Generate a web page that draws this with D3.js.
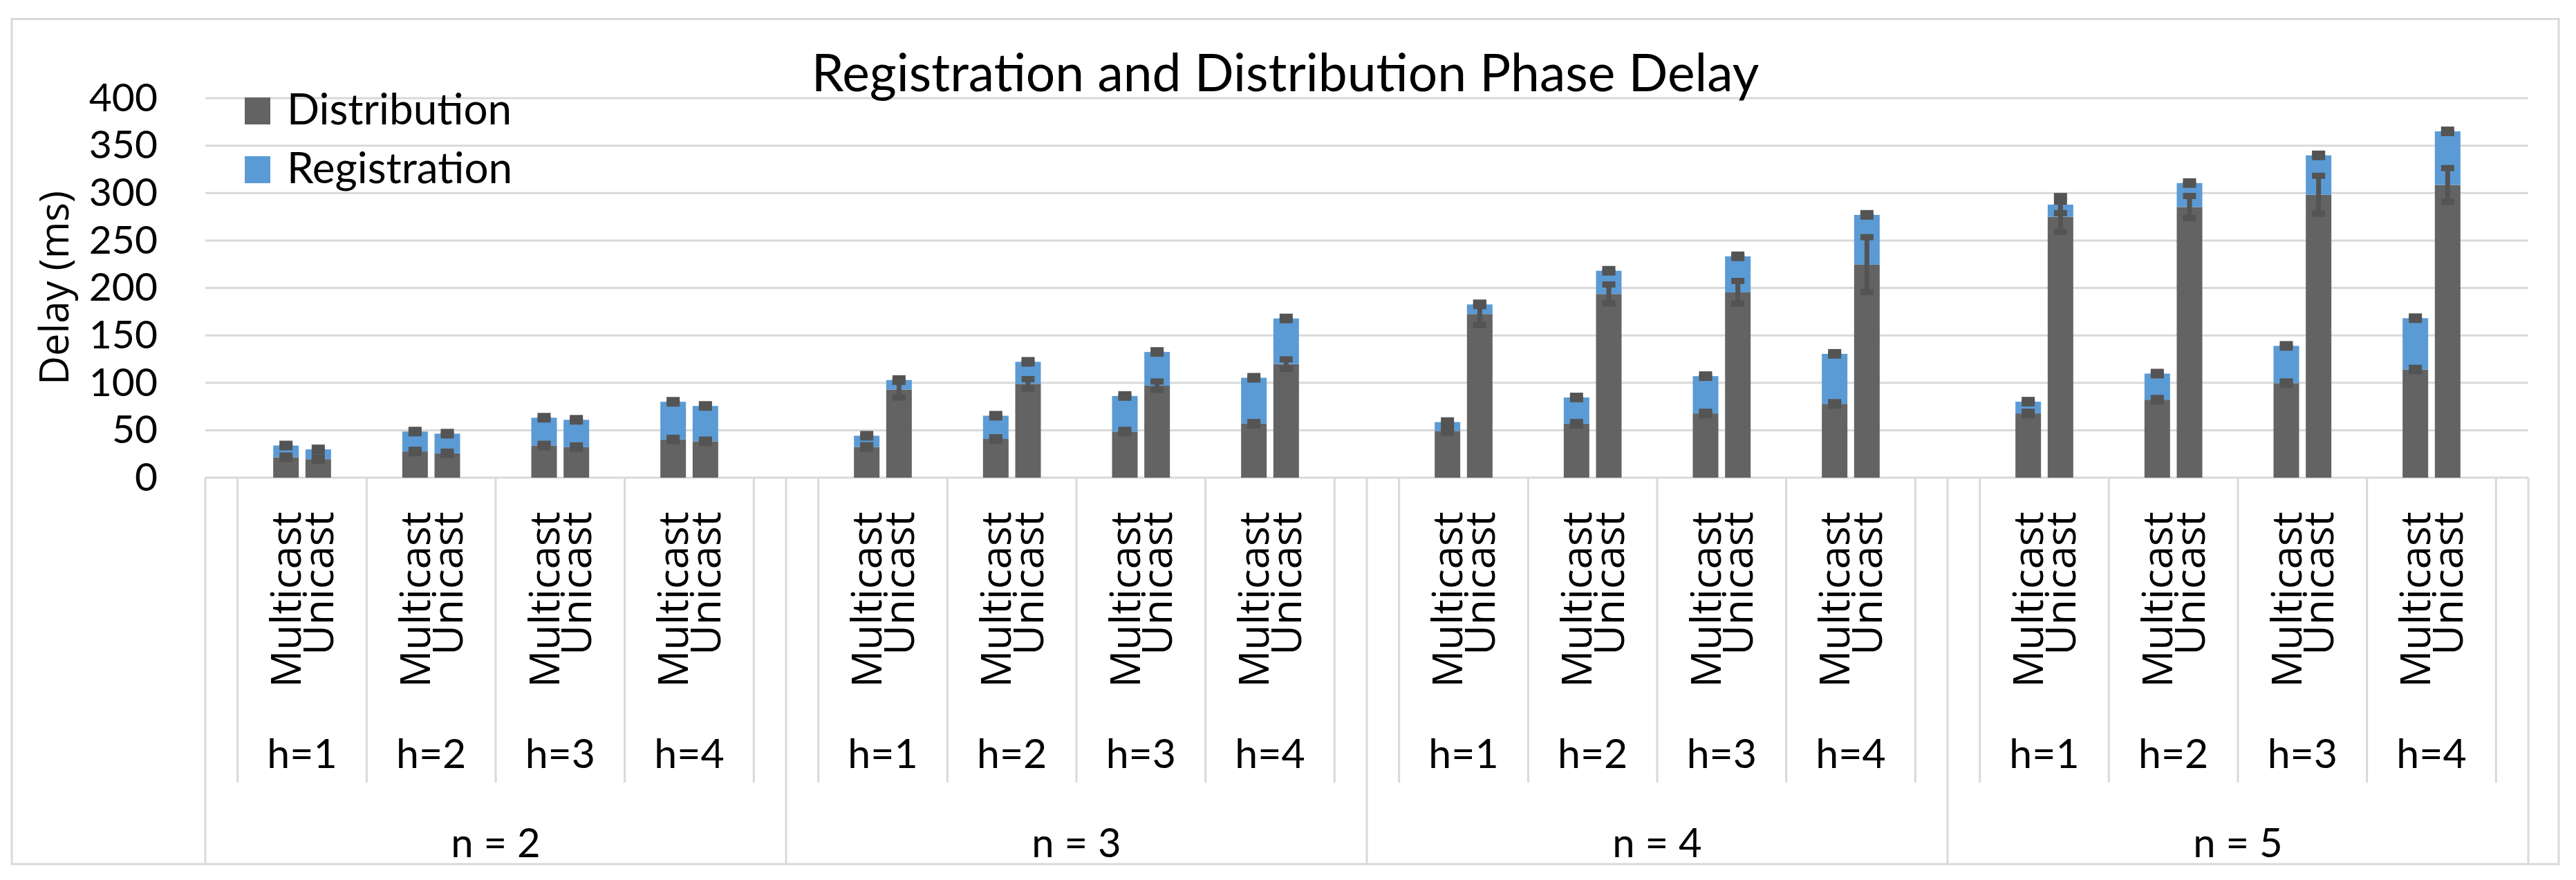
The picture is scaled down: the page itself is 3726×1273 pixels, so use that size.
<!DOCTYPE html>
<html>
<head>
<meta charset="utf-8">
<script src="https://cdn.jsdelivr.net/npm/d3@7"></script>
<style>
  body { margin: 0; background: #fff; }
</style>
</head>
<body>
<div id="chart"></div>
<script>
// categories
var nGroups = ["n = 2", "n = 3", "n = 4", "n = 5"];
var hGroups = ["h=1", "h=2", "h=3", "h=4"];
var modes = ["Multicast", "Unicast"];
var seriesNames = ["Distribution", "Registration"];

// values, ordered n -> h -> (Multicast, Unicast)
var distribution = [
    21.5, 19.5, 27.6, 25.6, 33.9, 32.2, 40.2, 38.3,
    32.4, 92.9, 40.8, 98.9, 48.6, 96.9, 56.9, 119.7,
    49.2, 172.5, 56.9, 193.6, 67.7, 195.3, 77.8, 224.5,
    67.7, 275.0, 82.2, 285.3, 99.6, 298.2, 114.0, 308.5
];
var registration = [
    12.4, 10.3, 21.0, 20.8, 29.3, 28.8, 39.8, 37.3,
    11.8, 10.0, 24.5, 23.2, 37.5, 35.6, 48.4, 48.1,
    9.4, 10.1, 27.6, 24.5, 39.3, 38.0, 52.7, 52.5,
    12.4, 12.8, 27.5, 25.2, 39.3, 41.5, 54.1, 56.5
];
// error bar half-lengths (ms)
var distributionErr = [
    1.8, 1.8, 1.8, 1.8, 1.8, 1.8, 1.8, 1.8,
    1.8, 8.4, 1.8, 5.0, 1.8, 4.5, 1.8, 5.0,
    1.8, 11.7, 1.8, 10.0, 1.8, 12.0, 1.8, 29.0,
    1.8, 16.0, 1.8, 11.6, 1.8, 20.0, 1.8, 17.8
];
var totalErr = [
    1.8, 1.8, 1.8, 1.8, 1.8, 1.8, 1.8, 1.8,
    1.8, 1.8, 1.8, 1.8, 1.8, 1.8, 1.8, 1.8,
    1.8, 1.8, 1.8, 1.8, 1.8, 1.8, 1.8, 1.8,
    1.8, 9.0, 1.8, 1.8, 1.8, 1.8, 1.8, 1.8
];
var yTicks = [0, 50, 100, 150, 200, 250, 300, 350, 400];

var width = 3726, height = 1273;
var plot = { left: 297, right: 3657, top: 142, bottom: 691 };
var gridColor = "#d9d9d9";
var colors = { Distribution: "#636363", Registration: "#5b9bd5" };
var errColor = "#545454";
var calibriLike = "Lato, 'Noto Sans', sans-serif";
var segoeLike = "'Open Sans', 'Noto Sans', sans-serif";

// leaf slots: each n has a blank slot at both ends, each h has blank, M, U, blank
var leaves = [];
nGroups.forEach(function (n, ni) {
    leaves.push({ key: ni + "-start", n: ni });
    hGroups.forEach(function (h, hi) {
        leaves.push({ key: ni + "-" + hi + "-a", n: ni, h: hi });
        modes.forEach(function (m) {
            leaves.push({ key: ni + "-" + hi + "-" + m, n: ni, h: hi, mode: m });
        });
        leaves.push({ key: ni + "-" + hi + "-b", n: ni, h: hi });
    });
    leaves.push({ key: ni + "-end", n: ni });
});

var bars = [];
nGroups.forEach(function (n, ni) {
    hGroups.forEach(function (h, hi) {
        modes.forEach(function (m, mi) {
            var i = ni * 8 + hi * 2 + mi;
            bars.push({
                key: ni + "-" + hi + "-" + m,
                mode: m,
                dist: distribution[i],
                reg: registration[i],
                distErr: distributionErr[i],
                totErr: totalErr[i]
            });
        });
    });
});

var x = d3.scaleBand()
    .domain(leaves.map(function (d) { return d.key; }))
    .range([plot.left, plot.right])
    .paddingInner(0)
    .paddingOuter(0);

var y = d3.scaleLinear()
    .domain([0, 400])
    .range([plot.bottom, plot.top]);

var svg = d3.select("#chart")
    .append("svg")
    .attr("width", width)
    .attr("height", height)
    .style("display", "block");

svg.append("rect")
    .attr("width", width)
    .attr("height", height)
    .attr("fill", "#fff");

// outer chart border
svg.append("rect")
    .attr("x", 17)
    .attr("y", 27.5)
    .attr("width", 3701 - 17)
    .attr("height", 1250 - 27.5)
    .attr("fill", "none")
    .attr("stroke", gridColor)
    .attr("stroke-width", 3);

// gridlines
svg.append("g")
    .selectAll("line")
    .data(yTicks)
    .enter()
    .append("line")
    .attr("x1", plot.left)
    .attr("x2", plot.right)
    .attr("y1", function (d) { return y(d); })
    .attr("y2", function (d) { return y(d); })
    .attr("stroke", gridColor)
    .attr("stroke-width", 3);

// y axis labels
var yAxis = svg.append("g")
    .attr("transform", "translate(" + (plot.left - 69) + ",0)")
    .call(d3.axisLeft(y).tickValues(yTicks).tickSize(0).tickPadding(0));
yAxis.select(".domain").remove();
yAxis.selectAll("text")
    .attr("fill", "#000")
    .style("font-family", calibriLike)
    .style("font-size", "57px");

svg.append("text")
    .attr("transform", "translate(99," + ((plot.top + plot.bottom) / 2) + ") rotate(-90)")
    .attr("text-anchor", "middle")
    .style("font-family", segoeLike)
    .style("font-size", "58px")
    .text("Delay (ms)");

// title
svg.append("text")
    .attr("x", (17 + 3701) / 2)
    .attr("y", 132)
    .attr("text-anchor", "middle")
    .style("font-family", calibriLike)
    .style("font-size", "75px")
    .text("Registration and Distribution Phase Delay");

// category separators
var hBounds = [];
var nBounds = [];
leaves.forEach(function (d) {
    if (d.key.slice(-6) === "-start") nBounds.push(x(d.key));
    if (d.key.slice(-2) === "-a" || d.key.slice(-4) === "-end") hBounds.push(x(d.key));
});
nBounds.push(plot.right);

svg.append("g")
    .selectAll("line")
    .data(hBounds)
    .enter()
    .append("line")
    .attr("x1", function (d) { return d; })
    .attr("x2", function (d) { return d; })
    .attr("y1", plot.bottom)
    .attr("y2", 1132)
    .attr("stroke", gridColor)
    .attr("stroke-width", 3);

svg.append("g")
    .selectAll("line")
    .data(nBounds)
    .enter()
    .append("line")
    .attr("x1", function (d) { return d; })
    .attr("x2", function (d) { return d; })
    .attr("y1", plot.bottom)
    .attr("y2", 1249)
    .attr("stroke", gridColor)
    .attr("stroke-width", 3);

// bars
var barW = 37;
var bw = x.bandwidth();

var barG = svg.append("g")
    .selectAll("g")
    .data(bars)
    .enter()
    .append("g");

barG.append("rect")
    .attr("x", function (d) { return x(d.key) + (bw - barW) / 2; })
    .attr("y", function (d) { return y(d.dist); })
    .attr("width", barW)
    .attr("height", function (d) { return y(0) - y(d.dist); })
    .attr("fill", colors.Distribution);

barG.append("rect")
    .attr("x", function (d) { return x(d.key) + (bw - barW) / 2; })
    .attr("y", function (d) { return y(d.dist + d.reg); })
    .attr("width", barW)
    .attr("height", function (d) { return y(d.dist) - y(d.dist + d.reg); })
    .attr("fill", colors.Registration);

// error bars
function errorBar(g, valueFn, errFn) {
    var cx = function (d) { return x(d.key) + bw / 2; };
    g.append("line")
        .attr("x1", cx).attr("x2", cx)
        .attr("y1", function (d) { return y(valueFn(d) + errFn(d)); })
        .attr("y2", function (d) { return y(valueFn(d) - errFn(d)); })
        .attr("stroke", errColor)
        .attr("stroke-width", 7);
    [1, -1].forEach(function (s) {
        g.append("line")
            .attr("x1", function (d) { return cx(d) - 9.5; })
            .attr("x2", function (d) { return cx(d) + 9.5; })
            .attr("y1", function (d) { return y(valueFn(d) + s * errFn(d)); })
            .attr("y2", function (d) { return y(valueFn(d) + s * errFn(d)); })
            .attr("stroke", errColor)
            .attr("stroke-width", 9);
    });
}
errorBar(barG, function (d) { return d.dist; }, function (d) { return d.distErr; });
errorBar(barG, function (d) { return d.dist + d.reg; }, function (d) { return d.totErr; });

// leaf labels (rotated)
svg.append("g")
    .selectAll("text")
    .data(leaves.filter(function (d) { return d.mode; }))
    .enter()
    .append("text")
    .attr("transform", function (d) {
        return "translate(" + (x(d.key) + bw / 2) + ",740) rotate(-90)";
    })
    .attr("text-anchor", "end")
    .attr("dy", "0.36em")
    .style("font-family", segoeLike)
    .style("font-size", "60px")
    .text(function (d) { return d.mode; });

// h labels
var hCenters = [];
leaves.forEach(function (d) {
    if (d.key.slice(-2) === "-a") {
        hCenters.push({ label: hGroups[d.h], cx: x(d.key) + bw * 2 });
    }
});
svg.append("g")
    .selectAll("text")
    .data(hCenters)
    .enter()
    .append("text")
    .attr("x", function (d) { return d.cx; })
    .attr("y", 1111)
    .attr("text-anchor", "middle")
    .style("font-family", calibriLike)
    .style("font-size", "59px")
    .text(function (d) { return d.label; });

// n labels
svg.append("g")
    .selectAll("text")
    .data(nGroups)
    .enter()
    .append("text")
    .attr("x", function (d, i) { return (nBounds[i] + nBounds[i + 1]) / 2; })
    .attr("y", 1240)
    .attr("text-anchor", "middle")
    .style("font-family", calibriLike)
    .style("font-size", "58px")
    .text(function (d) { return d; });

// legend
var legend = svg.append("g");
seriesNames.forEach(function (s, i) {
    legend.append("rect")
        .attr("x", 354)
        .attr("y", 141 + i * 85)
        .attr("width", 37)
        .attr("height", 39)
        .attr("fill", colors[s]);
    legend.append("text")
        .attr("x", 415)
        .attr("y", 180 + i * 85)
        .style("font-family", calibriLike)
        .style("font-size", "62px")
        .text(s);
});
</script>
</body>
</html>
